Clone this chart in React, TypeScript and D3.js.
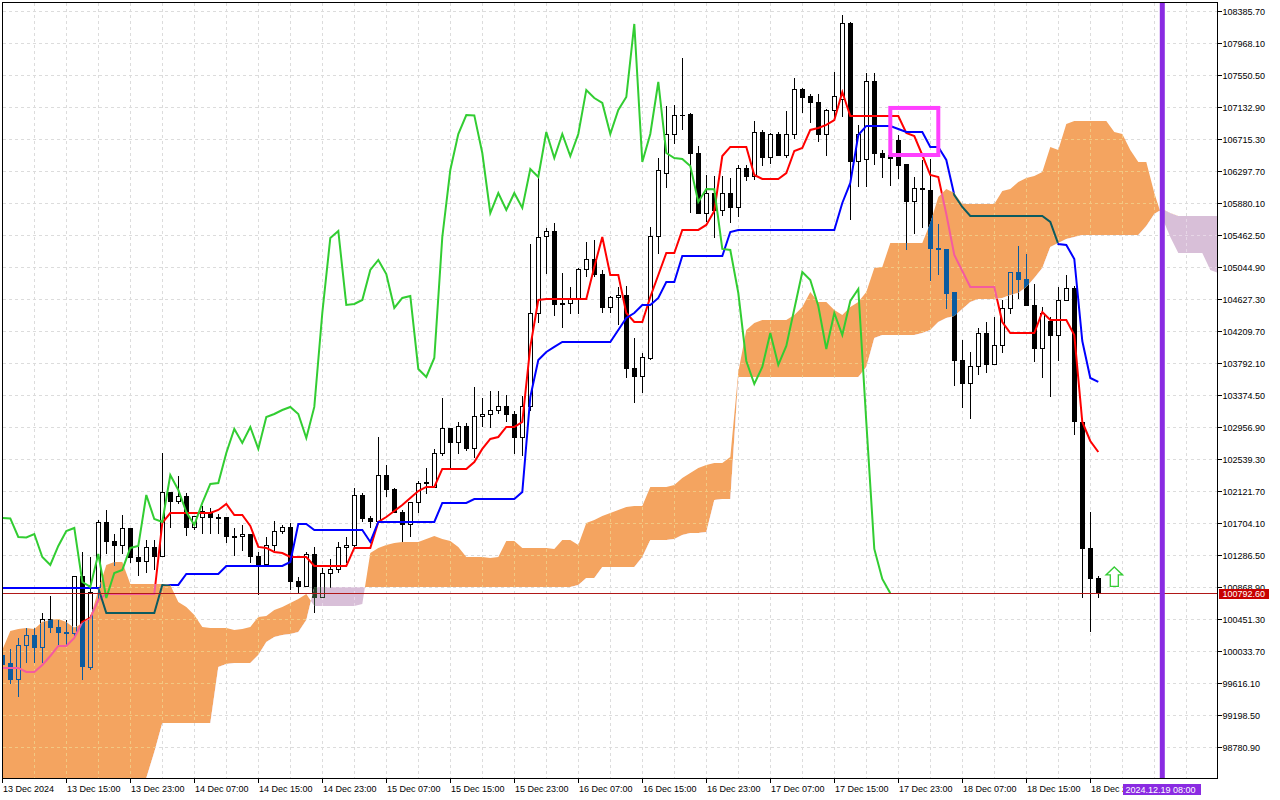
import React from 'react';
import * as d3 from 'd3';

// hourly candles, bar 0 = 13 Dec 07:00
const opens = [
  99975, 99871, 99662, 100106, 100236, 100080, 100445, 100341, 100288, 100275,
  101006, 99819, 100863, 101711, 101463, 101411, 101633, 101254, 101202, 101385,
  101267, 102115, 101985, 102050, 101646, 101776, 101841, 101776, 101776, 101528,
  101528, 101567, 101267, 101163, 101411, 101606, 101646, 100941, 100876, 101306,
  100732, 101058, 101098, 101385, 101411, 102076, 101763, 101724, 102337, 102142,
  101854, 101685, 101972, 102220, 102168, 102624, 102938, 102755, 102964, 102677,
  103094, 103133, 103185, 103225, 103133, 102820, 103225, 104451, 105443, 105521,
  104556, 104569, 104621, 105013, 105143, 104960, 104517, 104647, 104673, 103721,
  103616, 103851, 105443, 106278, 106787, 107035, 107048, 106539, 105756, 106017,
  105795, 106017, 105822, 106331, 106226, 106813, 106474, 106787, 106500, 106787,
  107362, 107270, 107192, 106787, 107100, 107231, 108223, 106422, 106448, 107466,
  106539, 106500, 106696, 106383, 105900, 106070, 106056, 105287, 105274, 104725,
  103825, 103525, 103747, 104190, 103773, 104021, 104504, 104986, 104882, 104543,
  103982, 104334, 104164, 104608, 104765, 103016, 101372, 100980,
];
const highs = [
  100080, 100067, 100210, 100341, 100341, 100549, 100771, 100445, 100445, 101006,
  101345, 101267, 101750, 101881, 101580, 101828, 101633, 101398, 101489, 101489,
  102637, 102115, 102337, 102115, 101789, 101933, 101907, 101841, 101776, 101646,
  101685, 101567, 101345, 101528, 101737, 101685, 101711, 101006, 101345, 101398,
  101124, 101241, 101463, 101528, 102168, 102115, 101815, 102833, 102468, 102168,
  101881, 101972, 102259, 102429, 102677, 103342, 102938, 103029, 103016, 103486,
  103342, 103446, 103446, 103394, 103185, 103381, 105352, 106317, 105561, 105626,
  104986, 104791, 105039, 105378, 105404, 105013, 104673, 104791, 104804, 104125,
  103942, 105574, 106474, 107153, 107166, 107779, 107074, 106631, 106265, 106252,
  106252, 106213, 106383, 106383, 106957, 106840, 106813, 106826, 107100, 107518,
  107388, 107322, 107322, 107114, 107609, 108353, 108249, 106905, 107596, 107596,
  106579, 106579, 106787, 106383, 106226, 106448, 106461, 105613, 105274, 104725,
  104099, 103955, 104256, 104334, 104399, 104621, 104999, 105326, 105234, 104830,
  104530, 104399, 104791, 104960, 104804, 103016, 101867, 101032,
];
const lows = [
  99766, 99610, 99440, 99884, 99884, 99884, 100288, 100119, 100119, 100249,
  99662, 99793, 100706, 101319, 101150, 101319, 101189, 101019, 101071, 101098,
  101267, 101646, 101959, 101554, 101620, 101580, 101580, 101580, 101450, 101293,
  101358, 101189, 100784, 101137, 101358, 101580, 100837, 100797, 100876, 100549,
  100732, 100863, 101071, 101189, 101385, 101724, 101646, 101724, 102050, 101854,
  101463, 101528, 101854, 102102, 102168, 102598, 102429, 102624, 102663, 102559,
  102964, 102951, 103146, 103029, 102624, 102598, 103185, 104321, 104973, 104425,
  104256, 104451, 104451, 104921, 104921, 104464, 104464, 104295, 103603, 103277,
  103420, 103838, 105234, 106083, 106657, 106840, 105769, 105756, 105639, 105430,
  105730, 105626, 105704, 106174, 106187, 106370, 106396, 106500, 106474, 106722,
  107074, 106931, 106683, 106500, 107009, 107009, 105665, 106096, 106096, 106383,
  106213, 106109, 106200, 105274, 105495, 105561, 104869, 104960, 104504, 103499,
  103212, 103068, 103655, 103681, 103773, 103942, 104451, 104634, 104543, 103812,
  103603, 103355, 103825, 104608, 102872, 100732, 100301, 100732,
];
const closes = [
  99858, 99662, 100106, 100236, 100080, 100445, 100341, 100288, 100275, 101006,
  99832, 100810, 101711, 101463, 101411, 101633, 101254, 101202, 101385, 101267,
  102115, 101985, 102050, 101646, 101789, 101867, 101776, 101770, 101528, 101522,
  101567, 101267, 101163, 101411, 101606, 101646, 100941, 100876, 101306, 100732,
  101058, 101098, 101385, 101411, 102076, 101763, 101724, 102337, 102142, 101854,
  101685, 101972, 102220, 102233, 102624, 102938, 102755, 102964, 102677, 103094,
  103133, 103185, 103225, 103133, 102820, 103225, 104451, 105430, 105521, 104556,
  104569, 104621, 105013, 105143, 104960, 104517, 104647, 104673, 103721, 103616,
  103864, 105443, 106317, 106787, 107035, 107030, 106539, 105756, 106017, 105795,
  106017, 105822, 106331, 106226, 106813, 106474, 106787, 106500, 106787, 107362,
  107257, 107192, 106787, 107100, 107270, 108223, 106422, 106787, 107466, 106539,
  106474, 106461, 106370, 105900, 106070, 106065, 105287, 105274, 104712, 103825,
  103525, 103747, 104190, 103773, 104021, 104504, 104986, 104882, 104543, 103982,
  104451, 104164, 104608, 104765, 103029, 101372, 100980, 100792.6,
];

// Ichimoku lines
const tenkan = [
  99819, 99819, 99819, 99766, 99766, 99858, 99975, 100106, 100106, 100210,
  100419, 100471, 100706, 100784, 100784, 100784, 100784, 100784, 100784, 100784,
  101711, 101841, 101841, 101841, 101841, 101841, 101841, 101881, 101959, 101815,
  101815, 101672, 101398, 101385, 101332, 101319, 101267, 101267, 101267, 101150,
  101150, 101150, 101150, 101150, 101385, 101385, 101385, 101724, 101789, 101867,
  101946, 102037, 102128, 102181, 102181, 102416, 102416, 102416, 102416, 102507,
  102677, 102807, 102833, 102964, 102964, 103029, 104008, 104621, 104634, 104634,
  104634, 104634, 104634, 104634, 105052, 105443, 104947, 104947, 104451, 104334,
  104334, 104660, 104947, 105234, 105234, 105535, 105535, 105535, 105600, 105782,
  106500, 106618, 106618, 106618, 106252, 106200, 106200, 106200, 106278, 106565,
  106605, 106840, 106866, 106905, 106970, 107335, 107022, 107022, 107022, 107022,
  107022, 107022, 107022, 106800, 106761, 106513, 106252, 106226, 105743, 105208,
  104999, 104791, 104791, 104791, 104791, 104334, 104190, 104190, 104190, 104190,
  104464, 104360, 104360, 104360, 104164, 103029, 102781, 102637,
];
const kijun = [
  100863, 100863, 100863, 100863, 100863, 100863, 100863, 100863, 100863, 100863,
  100863, 100863, 100863, 100536, 100536, 100536, 100536, 100536, 100536, 100536,
  100902, 100902, 100902, 101045, 101045, 101045, 101045, 101045, 101150, 101150,
  101150, 101150, 101150, 101150, 101150, 101150, 101202, 101698, 101698, 101620,
  101620, 101620, 101620, 101620, 101620, 101620, 101463, 101724, 101724, 101724,
  101724, 101724, 101724, 101724, 101724, 101972, 101972, 101972, 101972, 102024,
  102024, 102024, 102024, 102024, 102024, 102115, 103355, 103838, 103942, 104008,
  104073, 104073, 104073, 104073, 104073, 104073, 104073, 104230, 104386, 104451,
  104556, 104556, 104647, 104856, 104856, 105195, 105195, 105195, 105195, 105195,
  105195, 105508, 105535, 105535, 105535, 105535, 105535, 105535, 105535, 105535,
  105535, 105535, 105535, 105535, 105535, 105887, 106148, 106774, 106892, 106892,
  106892, 106892, 106853, 106813, 106813, 106813, 106618, 106618, 106448, 105991,
  105835, 105717, 105717, 105717, 105717, 105717, 105717, 105717, 105717, 105717,
  105717, 105639, 105352, 105339, 105156, 104086, 103603, 103551,
];
// senkou spans run 26 bars past the last candle
const spanA = [
  100054, 100301, 100328, 100341, 100328, 100419, 100445, 100458, 100419, 100341,
  100406, 100471, 100837, 101163, 101202, 101202, 100915, 100915, 100915, 100915,
  100915, 100902, 100680, 100615, 100510, 100354, 100341, 100341, 100341, 100315,
  100328, 100354, 100484, 100497, 100576, 100615, 100667, 100719, 100784, 100628,
  100628, 100628, 100628, 100628, 100628, 100654, 101319, 101385, 101424, 101450,
  101463, 101463, 101463, 101502, 101541, 101502, 101476, 101398, 101267, 101267,
  101267, 101254, 101267, 101476, 101476, 101385, 101385, 101385, 101385, 101372,
  101489, 101489, 101424, 101711, 101750, 101802, 101841, 101881, 101920, 101933,
  101933, 102181, 102181, 102181, 102207, 102298, 102363, 102429, 102468, 102494,
  102494, 102572, 103681, 104230, 104321, 104360, 104360, 104360, 104360, 104425,
  104530, 104725, 104595, 104595, 104490, 104425, 104530, 104595, 104725, 105039,
  105052, 105365, 105365, 105365, 105365, 105365, 105626, 105965, 106070, 106017,
  105874, 105874, 105874, 105874, 105874, 106043, 106070, 106161, 106213, 106239,
  106291, 106618, 106579, 106918, 106957, 106957, 106957, 106957, 106957, 106813,
  106787, 106579, 106422, 106422, 106017, 105691, 105443, 105234, 105234, 105234,
  105234, 105013, 104973,
];
const spanB = [
  98161, 98161, 98161, 98161, 98161, 98161, 98161, 98161, 98161, 98161,
  98161, 98161, 98161, 98161, 98161, 98161, 98161, 98161, 98383, 98722,
  99101, 99101, 99101, 99101, 99101, 99101, 99101, 99832, 99871, 99884,
  99884, 99884, 99988, 100158, 100223, 100249, 100262, 100288, 100445, 100876,
  100876, 100876, 100876, 100876, 100876, 100876, 100876, 100876, 100876, 100876,
  100876, 100876, 100876, 100876, 100876, 100876, 100876, 100876, 100876, 100876,
  100876, 100876, 100876, 100876, 100876, 100876, 100876, 100876, 100876, 100876,
  100876, 100876, 100902, 100993, 100993, 101137, 101137, 101137, 101137, 101137,
  101267, 101489, 101489, 101489, 101502, 101554, 101580, 101580, 101593, 102011,
  102024, 102024, 103616, 103616, 103616, 103616, 103616, 103616, 103616, 103616,
  103616, 103616, 103616, 103616, 103616, 103616, 103616, 103616, 103747, 104125,
  104164, 104164, 104164, 104164, 104164, 104190, 104230, 104334, 104386, 104412,
  104504, 104595, 104634, 104634, 104634, 104647, 104686, 104712, 104791, 104908,
  105039, 105313, 105365, 105417, 105443, 105469, 105469, 105469, 105469, 105469,
  105469, 105469, 105469, 105587, 105743, 105809, 105756, 105717, 105717, 105717,
  105717, 105717, 105717,
];

const priceTicks = [
  108385.7, 107968.1, 107550.5, 107132.9, 106715.3, 106297.7, 105880.1, 105462.5,
  105044.9, 104627.3, 104209.7, 103792.1, 103374.5, 102956.9, 102539.3, 102121.7,
  101704.1, 101286.5, 100868.9, 100451.3, 100033.7, 99616.1, 99198.5, 98780.9,
];
const timeLabels = [
  '13 Dec 2024', '13 Dec 15:00', '13 Dec 23:00', '14 Dec 07:00', '14 Dec 15:00',
  '14 Dec 23:00', '15 Dec 07:00', '15 Dec 15:00', '15 Dec 23:00', '16 Dec 07:00',
  '16 Dec 15:00', '16 Dec 23:00', '17 Dec 07:00', '17 Dec 15:00', '17 Dec 23:00',
  '18 Dec 07:00', '18 Dec 15:00', '18 Dec 23:00',
];

// chart objects
const boxBars = [111, 117];
const boxPrices = [107127, 106513];
const arrowBar = 139;
const arrowPrice = 101137;
const vlineBar = 145;
const vlineLabel = '2024.12.19 08:00';
const bidPrice = 100792.6;

const W = 1280;
const H = 800;
const L = 3, T = 3, R = 1217, B = 778;
const font = '"Liberation Sans", Arial, sans-serif';

const x = d3.scaleLinear().domain([0, 152]).range([2.3, 1218.3]);
const y = d3.scaleLinear().domain([98780.9, 108385.7]).range([747.5, 11.5]);
const px = (i: number) => Math.floor(x(i)) + 0.5;
const py = (p: number) => Math.round(y(p) - 0.5) + 0.5;

const gridBars = d3.range(4, 153, 4);

// the terminal paints the kumo by XOR, so marks under it change colour
interface Palette { bear: string; bull: string; edge: string; tenkan: string; kijun: string; }
const plain: Palette = { bear: '#000', bull: '#fff', edge: '#000', tenkan: '#ff0000', kijun: '#0000ff' };
const overUp: Palette = { bear: '#0b5b9f', bull: '#f4a460', edge: '#0b5b9f', tenkan: '#f45b9f', kijun: '#0b5b60' };
const overDown: Palette = { bear: '#274027', bull: '#d8bfd8', edge: '#274027', tenkan: '#d84027', kijun: '#2740d8' };

const line = d3.line<number>().x((_, i) => x(i)).y(d => y(d));

function Grid({ color }: { color: string }) {
  return (
    <g stroke={color} strokeWidth={1} strokeDasharray="3,3" shapeRendering="crispEdges">
      {gridBars.map(i => <line key={'v' + i} x1={px(i)} x2={px(i)} y1={T} y2={B} />)}
      {priceTicks.map(p => <line key={'h' + p} x1={L} x2={R} y1={py(p)} y2={py(p)} />)}
    </g>
  );
}

function Marks({ pal }: { pal: Palette }) {
  return (
    <g>
      <g shapeRendering="crispEdges">
        {closes.map((c, i) => {
          const o = opens[i];
          const cx = px(i);
          const top = py(Math.max(o, c));
          const bot = py(Math.min(o, c));
          return (
            <g key={i}>
              <line x1={cx} x2={cx} y1={py(highs[i])} y2={py(lows[i])} stroke={pal.edge} />
              {bot - top < 1 ? (
                <line x1={cx - 2.5} x2={cx + 2.5} y1={top} y2={top} stroke={pal.edge} />
              ) : (
                <rect x={cx - 2} y={top} width={4} height={bot - top}
                  fill={c > o ? pal.bull : pal.bear} stroke={pal.edge} />
              )}
            </g>
          );
        })}
      </g>
      <path d={line(tenkan) || ''} fill="none" stroke={pal.tenkan} strokeWidth={2} />
      <path d={line(kijun) || ''} fill="none" stroke={pal.kijun} strokeWidth={2} />
    </g>
  );
}

const App: React.FC = () => {
  const band = d3.area<number>().x((_, i) => x(i)).y0((_, i) => y(spanB[i])).y1(d => y(d))(spanA) || '';
  const above = d3.area<number>().x((_, i) => x(i)).y0(-20).y1(d => y(d))(spanB) || '';
  const below = d3.area<number>().x((_, i) => x(i)).y0(d => y(d)).y1(H + 20)(spanB) || '';
  const outside = `M${L},${T}H${R}V${B}H${L}Z` + band;
  const chikou = closes.slice(26);

  const ax = x(arrowBar);
  const ay = y(arrowPrice);
  const arrow = `M${ax},${ay} L${ax + 8.3},${ay + 8} L${ax + 4},${ay + 8} L${ax + 4},${ay + 19.5} ` +
    `L${ax - 4},${ay + 19.5} L${ax - 4},${ay + 8} L${ax - 8.3},${ay + 8} Z`;

  const vx = x(vlineBar);
  const bidY = py(bidPrice);

  return (
    <svg width={W} height={H} style={{ position: 'absolute', left: 0, top: 0 }}
      fontFamily={font} fontSize={9}>
      <defs>
        <clipPath id="plot"><rect x={L} y={T} width={R - L} height={B - T} /></clipPath>
        <clipPath id="outside"><path d={outside} clipRule="evenodd" /></clipPath>
        <clipPath id="aboveB"><path d={above} /></clipPath>
        <clipPath id="belowB"><path d={below} /></clipPath>
        <clipPath id="band"><path d={band} /></clipPath>
      </defs>
      <rect width={W} height={H} fill="#fff" />

      <g clipPath="url(#plot)">
        <Grid color="#dcdcdc" />
        <g clipPath="url(#outside)"><Marks pal={plain} /></g>
        <g clipPath="url(#aboveB)">
          <g clipPath="url(#band)">
            <rect x={0} y={0} width={W} height={H} fill="#f4a460" />
            <Grid color="#f2c882" />
            <Marks pal={overUp} />
          </g>
        </g>
        <g clipPath="url(#belowB)">
          <g clipPath="url(#band)">
            <rect x={0} y={0} width={W} height={H} fill="#d8bfd8" />
            <Grid color="#e6d6e6" />
            <Marks pal={overDown} />
          </g>
        </g>
      </g>

      <g clipPath="url(#plot)">
        <path d={line(chikou) || ''} fill="none" stroke="#32cd32" strokeWidth={2} />
        <line x1={L} x2={R} y1={bidY} y2={bidY} stroke="#b01818" />
        <rect x={x(boxBars[0])} y={y(boxPrices[0])} width={x(boxBars[1]) - x(boxBars[0])}
          height={y(boxPrices[1]) - y(boxPrices[0])} fill="none" stroke="#ff40ff" strokeWidth={4} />
        <line x1={vx} x2={vx} y1={T} y2={B} stroke="#8a2be2" strokeWidth={5} />
        <path d={arrow} fill="#fff" stroke="#34cc34" strokeWidth={1.3} />
      </g>

      <rect x={2.5} y={2.5} width={1215} height={776} fill="none" stroke="#000" shapeRendering="crispEdges" />

      <g shapeRendering="crispEdges" stroke="#000">
        {priceTicks.map(p => <line key={p} x1={R + 0.5} x2={R + 4.5} y1={py(p)} y2={py(p)} />)}
        {timeLabels.map((_, k) => <line key={k} x1={px(k * 8)} x2={px(k * 8)} y1={B + 0.5} y2={B + 5} />)}
      </g>
      <g fill="#000">
        {priceTicks.map(p => (
          <text key={p} x={1222.5} y={y(p) + 3.2}>{p.toFixed(2)}</text>
        ))}
        {timeLabels.map((t, k) => (
          <text key={t} x={px(k * 8) + 0.5} y={791.5}>{t}</text>
        ))}
      </g>

      <rect x={1219} y={bidY - 4.5} width={50} height={10} fill="#c80000" />
      <text x={1222.5} y={bidY + 3.5} fill="#fff">{bidPrice.toFixed(2)}</text>

      <rect x={1123} y={784} width={78} height={11} fill="#8a2be2" />
      <text x={1125.5} y={792.5} fill="#fff">{vlineLabel}</text>
    </svg>
  );
};

export default App;
